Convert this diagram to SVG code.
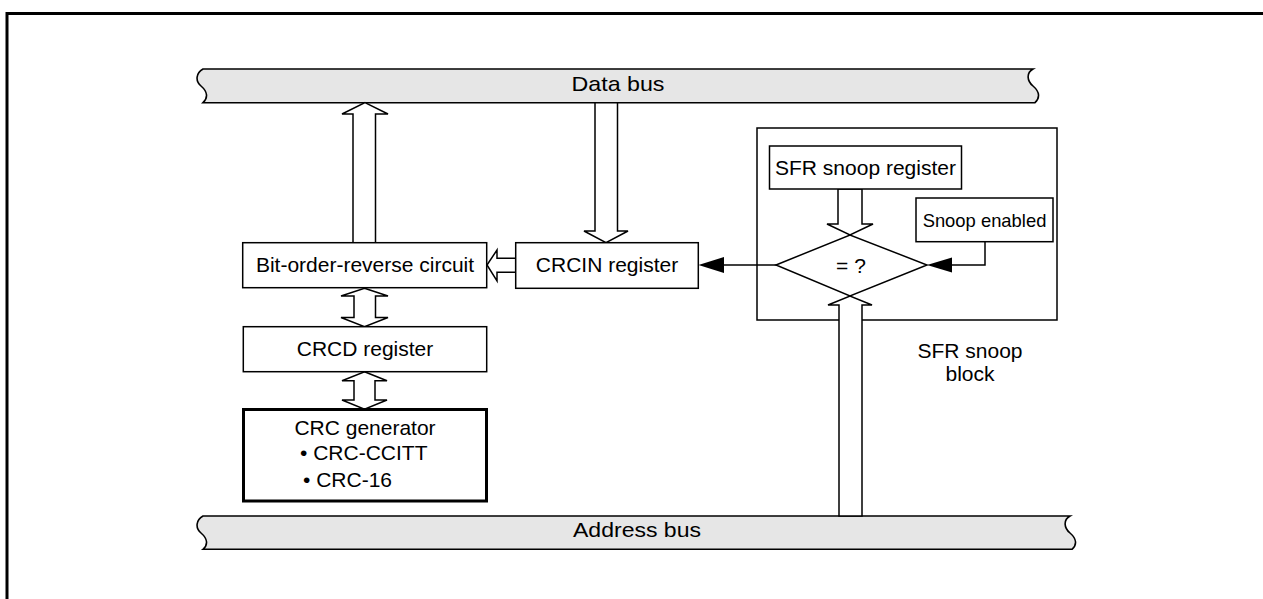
<svg xmlns="http://www.w3.org/2000/svg" width="1263" height="599" viewBox="0 0 1263 599">
<style>
.box{fill:#fff;stroke:#000;stroke-width:1.5}
.thick{fill:#fff;stroke:#000;stroke-width:3}
.bus{fill:#e6e6e6;stroke:#000;stroke-width:1.6}
.ha{fill:#fff;stroke:#000;stroke-width:1.5;stroke-linejoin:miter}
.ln{fill:none;stroke:#000;stroke-width:1.5}
.fa{fill:#000;stroke:none}
text{font-family:"Liberation Sans",Arial,sans-serif;font-size:21px;fill:#000}
.c{text-anchor:middle}
</style>
<rect width="1263" height="599" fill="#fff"/>
<path d="M7,599 V13.5 H1263" fill="none" stroke="#000" stroke-width="3"/>

<g id="data-bus">
<path class="bus" d="M203,69 H1033 C1026,73 1027,81 1033,86 C1040,92 1040,98 1035,102.7 H203 C208,98 208,92 201,86 C195,81 196,73 203,69 Z"/>
<text class="c" x="618" y="91" textLength="93" lengthAdjust="spacingAndGlyphs">Data bus</text>
</g>

<g id="address-bus">
<path class="bus" d="M203,516 H1070 C1063,520 1064,528 1070,533 C1077,539 1077,545 1072,549.3 H203 C208,545 208,539 201,533 C195,528 196,520 203,516 Z"/>
<text class="c" x="637" y="537" textLength="128" lengthAdjust="spacingAndGlyphs">Address bus</text>
</g>

<g id="sfr-snoop-block">
<rect class="box" x="757" y="128" width="300" height="192"/>
<text class="c" x="970" y="358">SFR snoop</text>
<text class="c" x="970" y="381">block</text>
</g>

<g id="connectors">
<polygon class="ha" points="365,102.7 388,114 375.5,114 375.5,242.7 353,242.7 353,114 342,114"/>
<polygon class="ha" points="595,102.7 617.5,102.7 617.5,231 628,231 606,242.7 584,231 595,231"/>
<polygon class="ha" points="487,265 497,250 497,258.3 515.7,258.3 515.7,272.3 497,272.3 497,281"/>
<polygon class="ha" points="364.5,288.3 388,296 375.5,296 375.5,317.5 388,317.5 364.5,326.7 341,317.5 354,317.5 354,296 341,296"/>
<polygon class="ha" points="364.5,371.7 387,380.7 375,380.7 375,400 387,400 364.5,409.3 342,400 354,400 354,380.7 342,380.7"/>
<polygon class="ha" points="838,189 862,189 862,224 873,224 850,235 827,224 838,224"/>
<polygon class="ha" points="839,516 862,516 862,305 872,305 850,296 828,305 839,305"/>
<path class="ln" d="M985,241.7 V265 H951"/>
<polygon class="fa" points="927,265 952,257.5 952,272.5"/>
<path class="ln" d="M776,265 H723"/>
<polygon class="fa" points="698.5,265 724,257 724,273"/>
</g>

<g id="sfr-snoop-register">
<rect class="box" x="769.5" y="146" width="192" height="43"/>
<text class="c" x="865.5" y="175">SFR snoop register</text>
</g>

<g id="snoop-enabled">
<rect class="box" x="916" y="198" width="137" height="43.7"/>
<text class="c" x="984.5" y="226.5" style="font-size:18.4px">Snoop enabled</text>
</g>

<g id="compare">
<polygon class="box" points="776,265 850,235 927,265 850,296"/>
<text class="c" x="851" y="273">= ?</text>
</g>

<g id="crcin-register">
<rect class="box" x="515.7" y="242.7" width="182.6" height="45.6"/>
<text class="c" x="607" y="271.7">CRCIN register</text>
</g>

<g id="bit-order-reverse">
<rect class="box" x="242.7" y="242.7" width="244" height="45"/>
<text class="c" x="365" y="271.7">Bit-order-reverse circuit</text>
</g>

<g id="crcd-register">
<rect class="box" x="243.3" y="326.7" width="243.4" height="45"/>
<text class="c" x="365" y="356">CRCD register</text>
</g>

<g id="crc-generator">
<rect class="thick" x="243.5" y="409.5" width="243" height="91.5"/>
<text class="c" x="365" y="435">CRC generator</text>
<text x="300" y="460">• CRC-CCITT</text>
<text x="303" y="486.7">• CRC-16</text>
</g>
</svg>
